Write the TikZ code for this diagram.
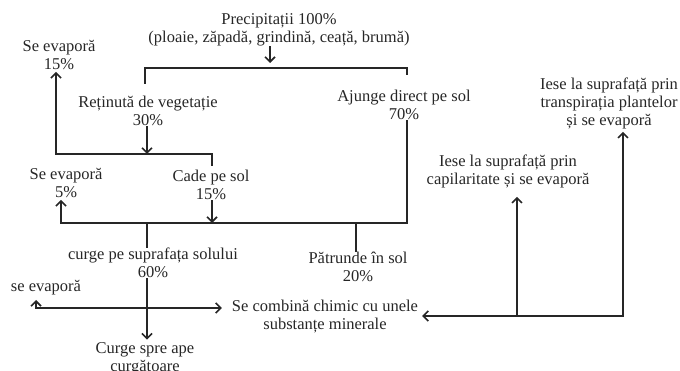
\documentclass[tikz,border=0pt]{standalone}
\usepackage{fontspec}
\setmainfont{Liberation Serif}
\usepackage{tikz}
\usetikzlibrary{arrows.meta}

\begin{document}
\begin{tikzpicture}[x=1pt,y=-1pt,
        lbl/.style={inner sep=0pt, align=center, text=black!85,
                font=\fontsize{16.5}{18}\selectfont},
        flow/.style={black!85, line width=1.6pt},
        >={Straight Barb[length=5pt,width=10pt]}]

        \useasboundingbox (0,0) rectangle (680,371);

        \node[lbl] (precip) at (279,30) {Precipitații 100\%\\(ploaie, zăpadă, grindină, ceață, brumă)};
        \node[lbl] (reti) at (148,111) {Reținută de vegetație\\30\%};
        \node[lbl] (evapa) at (59,55) {Se evaporă\\15\%};
        \node[lbl] (ajunge) at (404,105) {Ajunge direct pe sol\\70\%};
        \node[lbl] (cade) at (211,185) {Cade pe sol\\15\%};
        \node[lbl] (evapb) at (66,183) {Se evaporă\\5\%};
        \node[lbl] (curge) at (153,263) {curge pe suprafața solului\\60\%};
        \node[lbl] (patrunde) at (358,267) {Pătrunde în sol\\20\%};
        \node[lbl] (evapc) at (46,288) {se evaporă};
        \node[lbl] (combina) at (325,317) {Se combină chimic cu unele\\substanțe minerale};
        \node[lbl] (ape) at (145,359) {Curge spre ape\\curgătoare};
        \node[lbl] (capil) at (508,171) {Iese la suprafață prin\\capilaritate și se evaporă};
        \node[lbl] (transp) at (609,103) {Iese la suprafață prin\\transpirația plantelor\\și se evaporă};

        % bracket under precipitations
        \coordinate (pj) at (270,63);
        \coordinate (bal) at (145,68);
        \coordinate (bar) at (407,68);
        \draw[flow,->] (precip.south -| pj) -- (pj);
        \draw[flow] (145,84) -- (bal) -- (bar) -- (407,75);

        % vegetation
        \coordinate (bbl) at (56,154);
        \coordinate (bbr) at (212,154);
        \draw[flow,->] (reti.south -| 147,0) -- (147,154);
        \draw[flow,->] (212,166) -- (bbr) -- (bbl) -- ([yshift=-2pt]evapa.south -| bbl);

        % ground line
        \coordinate (gl) at (61,223);
        \coordinate (gr) at (407,223);
        \coordinate (gc) at (147,223);
        \coordinate (gp) at (356,223);
        \draw[flow,->] (ajunge.south -| gr) -- (gr) -- (gl) -- ([yshift=-2pt]evapb.south -| gl);
        \draw[flow,->] (cade.south -| 212,0) -- (212,223);
        \draw[flow] (gc) -- (curge.north -| gc);
        \draw[flow] (gp) -- (patrunde.north -| gp);

        % runoff
        \coordinate (rc) at (147,308);
        \coordinate (rl) at (36,308);
        \draw[flow,->] (curge.south -| rc) -- ([yshift=3pt]ape.north -| rc);
        \draw[flow,->, shorten >=10pt] (rc) -- (combina.west |- rc);
        \draw[flow,->] (rc) -- (rl) -- (36,300);

        % back to the surface
        \coordinate (dr) at (623,316);
        \coordinate (dm) at (517,316);
        \draw[flow,<->, shorten <=4pt, shorten >=3pt] (combina.east |- dr) -- (dr) -- (transp.south -| dr);
        \draw[flow,->, shorten >=9pt] (dm) -- (capil.south -| dm);

\end{tikzpicture}
\end{document}
